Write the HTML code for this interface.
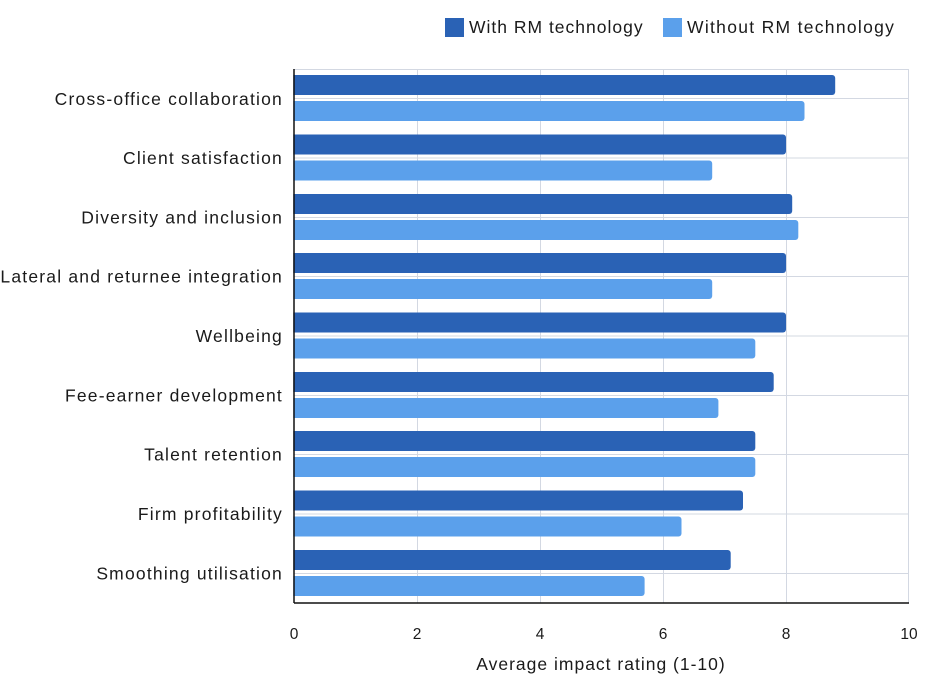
<!DOCTYPE html><html><head><style>body{margin:0;background:#fff}</style></head><body>
<svg width="934" height="688" xmlns="http://www.w3.org/2000/svg" font-family="Liberation Sans, sans-serif" fill="#1a1a1a">
<rect width="934" height="688" fill="#fff"/>
<g stroke="#d3d8e2" stroke-width="1">
<line x1="294" y1="69.5" x2="909" y2="69.5"/>
<line x1="417.5" y1="69" x2="417.5" y2="603"/><line x1="540.5" y1="69" x2="540.5" y2="603"/><line x1="663.5" y1="69" x2="663.5" y2="603"/><line x1="786.5" y1="69" x2="786.5" y2="603"/><line x1="908.5" y1="69" x2="908.5" y2="603"/>
<line x1="294" y1="98.5" x2="909" y2="98.5"/><line x1="294" y1="158" x2="909" y2="158"/><line x1="294" y1="217.5" x2="909" y2="217.5"/><line x1="294" y1="276.5" x2="909" y2="276.5"/><line x1="294" y1="336" x2="909" y2="336"/><line x1="294" y1="395.5" x2="909" y2="395.5"/><line x1="294" y1="454.5" x2="909" y2="454.5"/><line x1="294" y1="514" x2="909" y2="514"/><line x1="294" y1="573.5" x2="909" y2="573.5"/>
</g>
<g fill="#2a62b5">
<rect x="290" y="75" width="545.2" height="20" rx="3"/>
<rect x="290" y="134.5" width="496" height="20" rx="3"/>
<rect x="290" y="194" width="502.2" height="20" rx="3"/>
<rect x="290" y="253" width="496" height="20" rx="3"/>
<rect x="290" y="312.5" width="496" height="20" rx="3"/>
<rect x="290" y="372" width="483.7" height="20" rx="3"/>
<rect x="290" y="431" width="465.3" height="20" rx="3"/>
<rect x="290" y="490.5" width="453" height="20" rx="3"/>
<rect x="290" y="550" width="440.7" height="20" rx="3"/>
</g>
<g fill="#5ba0eb">
<rect x="290" y="101" width="514.5" height="20" rx="3"/>
<rect x="290" y="160.5" width="422.2" height="20" rx="3"/>
<rect x="290" y="220" width="508.3" height="20" rx="3"/>
<rect x="290" y="279" width="422.2" height="20" rx="3"/>
<rect x="290" y="338.5" width="465.3" height="20" rx="3"/>
<rect x="290" y="398" width="428.4" height="20" rx="3"/>
<rect x="290" y="457" width="465.3" height="20" rx="3"/>
<rect x="290" y="516.5" width="391.5" height="20" rx="3"/>
<rect x="290" y="576" width="354.6" height="20" rx="3"/>
</g>
<rect x="280" y="60" width="13.3" height="545" fill="#fff"/>
<line x1="294" y1="603" x2="909" y2="603" stroke="#111" stroke-width="1.5"/>
<line x1="294" y1="69" x2="294" y2="603" stroke="#111" stroke-width="1.5"/>
<g font-size="17.5" text-anchor="end" letter-spacing="1.2">
<text x="283" y="105">Cross-office collaboration</text>
<text x="283" y="164">Client satisfaction</text>
<text x="283" y="223.5">Diversity and inclusion</text>
<text x="283" y="282.5">Lateral and returnee integration</text>
<text x="283" y="342">Wellbeing</text>
<text x="283" y="401.5">Fee-earner development</text>
<text x="283" y="460.5">Talent retention</text>
<text x="283" y="520">Firm profitability</text>
<text x="283" y="579.5">Smoothing utilisation</text>
</g>
<g font-size="15.5" text-anchor="middle">
<text x="294" y="639">0</text><text x="417" y="639">2</text><text x="540" y="639">4</text><text x="663" y="639">6</text><text x="786" y="639">8</text><text x="909" y="639">10</text>
</g>
<text x="601" y="670" font-size="17.5" text-anchor="middle" letter-spacing="1">Average impact rating (1-10)</text>
<rect x="445" y="18" width="19" height="19" fill="#2a62b5"/>
<text x="469" y="33" font-size="17.5" letter-spacing="1">With RM technology</text>
<rect x="663" y="18" width="19" height="19" fill="#5ba0eb"/>
<text x="687" y="33" font-size="17.5" letter-spacing="1.3">Without RM technology</text>
</svg></body></html>
